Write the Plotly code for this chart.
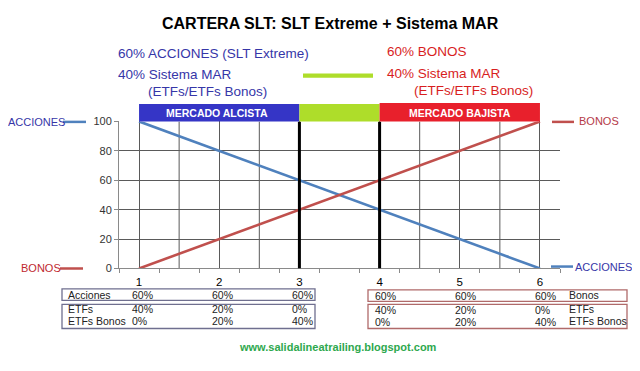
import plotly.graph_objects as go

# ---------------- data ----------------
x_steps = [1, 2, 3, 4, 5, 6]
acciones = [100, 80, 60, 40, 20, 0]
bonos = [0, 20, 40, 60, 80, 100]
y_ticks = [0, 20, 40, 60, 80, 100]

left_row_labels = ["Acciones", "ETFs", "ETFs Bonos"]
left_acciones = ["60%", "60%", "60%"]
left_etfs = ["40%", "20%", "0%"]
left_etfs_bonos = ["0%", "20%", "40%"]

right_row_labels = ["Bonos", "ETFs", "ETFs Bonos"]
right_bonos = ["60%", "60%", "60%"]
right_etfs = ["40%", "20%", "0%"]
right_etfs_bonos = ["0%", "20%", "40%"]

title_text = "CARTERA SLT: SLT Extreme + Sistema MAR"
blue_lines = ["60% ACCIONES (SLT Extreme)", "40% Sistema MAR", "(ETFs/ETFs Bonos)"]
red_lines = ["60% BONOS", "40% Sistema MAR", "(ETFs/ETFs Bonos)"]
band_labels = ["MERCADO ALCISTA", "MERCADO BAJISTA"]
website = "www.salidalineatrailing.blogspot.com"

# ---------------- layout helpers ----------------
W, H = 640, 371
OX, OY = 8, 8  # page body margin offset
FONT = "Arial, Liberation Sans, sans-serif"


def px(x):
    return (x - OX) / W


def py(y):
    return 1 - (y - OY) / H


C_BLUE_LINE = "#4F81BD"
C_RED_LINE = "#C0504D"
C_BLUE_TXT = "#3636A8"
C_RED_TXT = "#D81E1E"
C_GRID = "#5a5a5a"

fig = go.Figure()

fig.add_trace(go.Scatter(x=x_steps, y=acciones, mode="lines",
                         line=dict(color=C_BLUE_LINE, width=2.6),
                         name="ACCIONES", hoverinfo="x+y"))
fig.add_trace(go.Scatter(x=x_steps, y=bonos, mode="lines",
                         line=dict(color=C_RED_LINE, width=2.6),
                         name="BONOS", hoverinfo="x+y"))

shapes = []
for xv in [1.5, 2.5, 4.5, 5.5]:
    shapes.append(dict(type="line", xref="x", yref="y", x0=xv, x1=xv, y0=0, y1=100,
                       line=dict(color=C_GRID, width=1), layer="below"))
for xv in [3, 4]:
    shapes.append(dict(type="line", xref="x", yref="y", x0=xv, x1=xv, y0=0, y1=100,
                       line=dict(color="black", width=3)))
shapes.append(dict(type="rect", xref="x", yref="paper", x0=1, x1=3,
                   y0=py(119), y1=py(101), fillcolor="#3535C6", line=dict(width=0)))
shapes.append(dict(type="rect", xref="x", yref="paper", x0=3, x1=4,
                   y0=py(119), y1=py(101), fillcolor="#AEDD2A", line=dict(width=0)))
shapes.append(dict(type="rect", xref="x", yref="paper", x0=4, x1=6,
                   y0=py(119), y1=py(100), fillcolor="#E8202C", line=dict(width=0)))
shapes.append(dict(type="rect", xref="paper", yref="paper", x0=px(303), x1=px(373),
                   y0=py(74), y1=py(69.5), fillcolor="#AEDD2A", line=dict(width=0)))
shapes.append(dict(type="line", xref="paper", yref="paper", x0=px(63), x1=px(86),
                   y0=py(119.5), y1=py(119.5), line=dict(color=C_BLUE_LINE, width=2.5)))
shapes.append(dict(type="line", xref="paper", yref="paper", x0=px(60), x1=px(83),
                   y0=py(271), y1=py(271), line=dict(color=C_RED_LINE, width=2.5)))
shapes.append(dict(type="line", xref="paper", yref="paper", x0=px(552), x1=px(574),
                   y0=py(119.5), y1=py(119.5), line=dict(color=C_RED_LINE, width=2.5)))
shapes.append(dict(type="line", xref="paper", yref="paper", x0=px(551), x1=px(573),
                   y0=py(269), y1=py(269), line=dict(color=C_BLUE_LINE, width=2.5)))
for (x0, x1, y0, y1, col) in [
    (62, 315, 292, 304, "#6f6f8f"), (62, 315, 308, 333, "#6f6f8f"),
    (368, 627, 293, 305, "#b06a6a"), (368, 627, 308, 333, "#b06a6a")]:
    shapes.append(dict(type="rect", xref="paper", yref="paper", x0=px(x0), x1=px(x1),
                       y0=py(y1), y1=py(y0), line=dict(color=col, width=1.3),
                       fillcolor="rgba(0,0,0,0)"))

ann = []


def text(x, y, s, size=12, color="black", bold=False, anchor="left"):
    ann.append(dict(x=px(x), y=py(y), xref="paper", yref="paper",
                    text=("<b>%s</b>" % s) if bold else s,
                    showarrow=False, xanchor=anchor, yanchor="middle",
                    font=dict(family=FONT, size=size, color=color)))


text(330, 18, title_text, size=16, bold=True, anchor="center")
for s, (x, y) in zip(blue_lines, [(116, 49), (116, 71), (146, 88)]):
    text(x, y, s, size=13.5, color=C_BLUE_TXT)
for s, (x, y) in zip(red_lines, [(385, 47), (385, 70), (412, 87)]):
    text(x, y, s, size=13.5, color=C_RED_TXT)

text(217, 110, band_labels[0], size=10.5, color="white", bold=True, anchor="center")
text(460, 110, band_labels[1], size=10.5, color="white", bold=True, anchor="center")

text(6, 120, "ACCIONES", size=11, color=C_BLUE_TXT)
text(19, 271, "BONOS", size=11, color="#C0282E")
text(577, 119, "BONOS", size=11, color="#B53A48")
text(573, 269, "ACCIONES", size=11, color=C_BLUE_TXT)

lx_cols = [130, 210, 290]
for lab, y in zip(left_row_labels, [298, 313, 325]):
    text(66, y, lab, size=10.5, color="#222")
for row, y in zip([left_acciones, left_etfs, left_etfs_bonos], [298, 313, 325]):
    for v, x in zip(row, lx_cols):
        text(x, y, v, size=10.5, color="#222")
rx_cols = [373, 453, 533]
for lab, y in zip(right_row_labels, [298, 313, 325]):
    text(567, y, lab, size=10.5, color="#222")
for row, y in zip([right_bonos, right_etfs, right_etfs_bonos], [299, 314, 326]):
    for v, x in zip(row, rx_cols):
        text(x, y, v, size=10.5, color="#222")

text(338, 352, website, size=11, color="#2EA84E", bold=True, anchor="center")

minor_vals = [0.75 + 0.5 * k for k in range(12)]

fig.update_layout(
    width=W, height=H,
    margin=dict(l=0, r=0, t=0, b=0),
    paper_bgcolor="white", plot_bgcolor="white",
    showlegend=False,
    shapes=shapes, annotations=ann,
    font=dict(family=FONT),
    xaxis=dict(domain=[px(119), px(560)], range=[0.75, 6.25],
               tickvals=x_steps, ticktext=[str(v) for v in x_steps],
               ticks="outside", ticklen=3, tickcolor="rgba(0,0,0,0)",
               tickfont=dict(size=11.5, color="black", family=FONT),
               showgrid=True, gridcolor=C_GRID, gridwidth=1,
               showline=True, linecolor="#8a8a8a", linewidth=1,
               zeroline=False, fixedrange=True,
               minor=dict(tickvals=minor_vals, ticks="outside", ticklen=4,
                          tickcolor="#8a8a8a", showgrid=False)),
    yaxis=dict(domain=[py(271), py(119)], range=[0, 100],
               tickvals=y_ticks, ticks="outside", ticklen=4, tickcolor="#8a8a8a",
               tickfont=dict(size=11, color="#333", family=FONT),
               showgrid=True, gridcolor=C_GRID, gridwidth=1,
               showline=True, linecolor="#8a8a8a", linewidth=1,
               zeroline=False, fixedrange=True),
)

fig.write_html("out.html")
